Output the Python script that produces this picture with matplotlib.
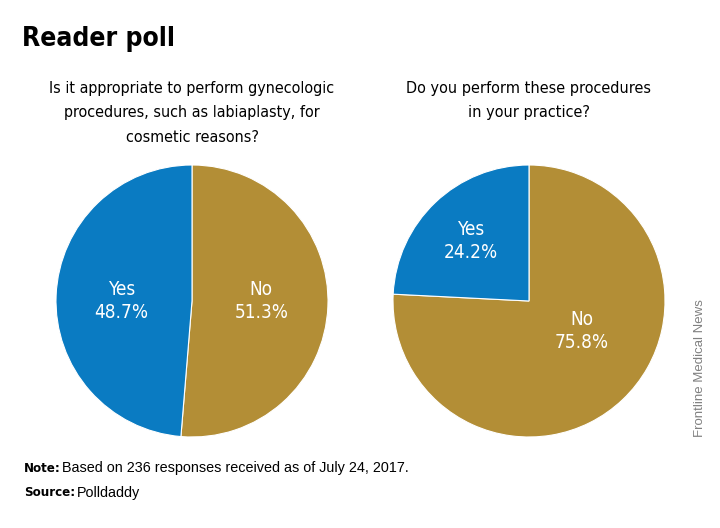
import matplotlib
matplotlib.use('Agg')
from matplotlib import pyplot as plt

plt.rcParams['font.family'] = ['DejaVu Sans']
plt.rcParams['font.stretch'] = 'condensed'

left_labels = ['No', 'Yes']
left_values = [51.3, 48.7]
right_labels = ['No', 'Yes']
right_values = [75.8, 24.2]

left_q = 'Is it appropriate to perform gynecologic\nprocedures, such as labiaplasty, for\ncosmetic reasons?'
right_q = 'Do you perform these procedures\nin your practice?'
note = 'Based on 236 responses received as of July 24, 2017.'
source = 'Polldaddy'

blue = '#0a7bc2'
gold = '#b38e36'

W, H = 720, 528
fig = plt.figure(figsize=(W/100, H/100), dpi=100)
renderer = fig.canvas.get_renderer()

def fit(t, target, vertical=False):
    # scale the font so the text spans about target pixels
    bb = t.get_window_extent(renderer)
    size = bb.height if vertical else bb.width
    t.set_fontsize(t.get_fontsize() * target / size)

def pie_axes(cx, cy, r):
    return fig.add_axes([(cx - r)/W, (H - cy - r)/H, 2*r/W, 2*r/H])

def label(ax, x, y, name, val):
    t = ax.text(x, y, '%s\n%.1f%%' % (name, val), color='white',
                ha='center', va='center', fontsize=14, linespacing=1.3)
    fit(t, 54)

ax1 = pie_axes(192, 301, 136)
ax1.pie(left_values, colors=[gold, blue], startangle=90, counterclock=False,
        wedgeprops=dict(linewidth=0.8, edgecolor='white'))
ax1.set_aspect('equal')
ax1.set_xlim(-1, 1); ax1.set_ylim(-1, 1)
label(ax1, 0.51, 0.0, left_labels[0], left_values[0])
label(ax1, -0.52, 0.0, left_labels[1], left_values[1])

ax2 = pie_axes(529, 301, 136)
ax2.pie(right_values, colors=[gold, blue], startangle=90, counterclock=False,
        wedgeprops=dict(linewidth=0.8, edgecolor='white'))
ax2.set_aspect('equal')
ax2.set_xlim(-1, 1); ax2.set_ylim(-1, 1)
label(ax2, 0.39, -0.22, right_labels[0], right_values[0])
label(ax2, -0.43, 0.44, right_labels[1], right_values[1])

t = fig.text(22/W, 1 - 39/H, 'Reader poll', fontsize=28, fontweight='bold',
             ha='left', va='center', color='black')
fit(t, 153)
t = fig.text(192/W, 1 - 113/H, left_q, fontsize=13, ha='center', va='center', linespacing=1.75)
fit(t, 286)
t = fig.text(529/W, 1 - 100/H, right_q, fontsize=13, ha='center', va='center', linespacing=1.75)
fit(t, 244)

plain = ['Liberation Sans', 'DejaVu Sans']
fig.text(24/W, 1 - 468/H, 'Note:', fontsize=9.5, fontweight='bold', ha='left', va='center')
fig.text(24/W, 1 - 493/H, 'Source:', fontsize=9.5, fontweight='bold', ha='left', va='center')
nt = fig.text(62/W, 1 - 468/H, note, fontsize=10.5, ha='left', va='center',
              family=plain, stretch='normal')
st = fig.text(77/W, 1 - 493/H, source, fontsize=10.5, ha='left', va='center',
              family=plain, stretch='normal')
fit(nt, 350)
st.set_fontsize(nt.get_fontsize())

t = fig.text(700/W, 1 - 368/H, 'Frontline Medical News', fontsize=8.5, rotation=90,
             color='#808080', ha='center', va='center', family=plain, stretch='normal')
fit(t, 137, vertical=True)

fig.savefig('out.png', dpi=100)
